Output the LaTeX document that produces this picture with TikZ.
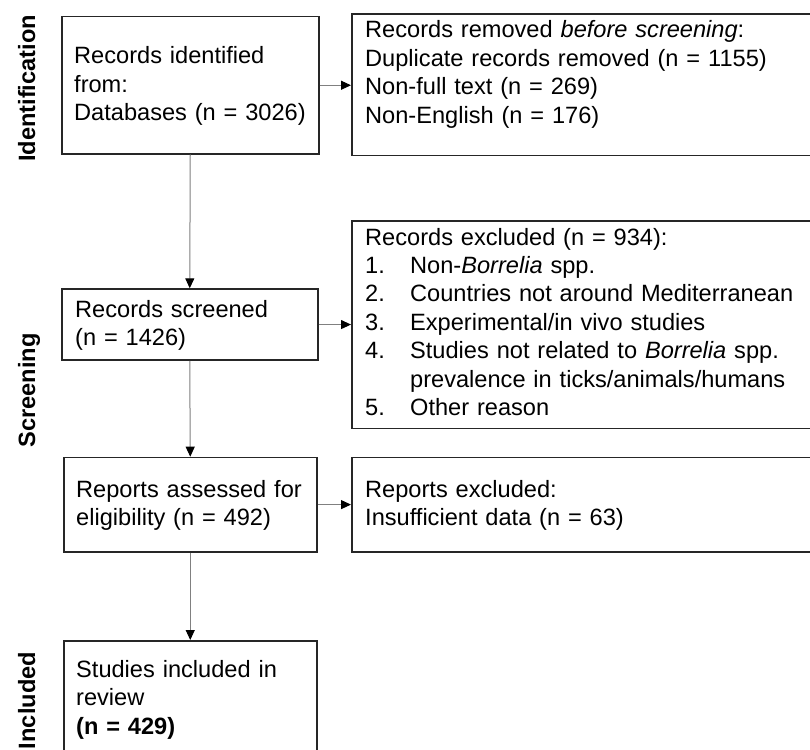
\documentclass[tikz,border=0pt]{standalone}
\usepackage{fontspec}
\setmainfont{Liberation Sans}
\usetikzlibrary{arrows.meta}
\definecolor{boxline}{HTML}{262626}
\definecolor{connline}{HTML}{808080}
\tikzset{
  box/.style={draw=boxline, line width=1.5pt, rectangle, inner sep=0pt, anchor=north west},
  txt/.style={inner sep=0pt, anchor=base west, text width=460pt, align=left,
              font=\fontsize{23.6}{28.4}\selectfont},
  phase/.style={inner sep=0pt, anchor=base, rotate=90,
              font=\fontsize{23.6}{28.4}\selectfont\bfseries},
  conn/.style={draw=connline, line width=1pt,
              -{Triangle[length=10pt,width=9pt,color=black]}}
}
\newcommand{\itemno}[1]{\makebox[45pt][l]{#1}}
\begin{document}
\begin{tikzpicture}[x=1pt,y=-1pt]
\useasboundingbox (0,0) rectangle (810,749);
\clip (0,0) rectangle (810,749);
\fill[white] (0,0) rectangle (810,749);

% boxes
\node[box, minimum width=257pt, minimum height=137pt] (b1) at (61,16) {};
\node[box, minimum width=480pt, minimum height=141pt] (b2) at (351,13.5) {};
\node[box, minimum width=256pt, minimum height=71pt] (b3) at (61,288.3) {};
\node[box, minimum width=480pt, minimum height=207.5pt] (b4) at (351,220) {};
\node[box, minimum width=253pt, minimum height=94.3pt] (b5) at (63,456.7) {};
\node[box, minimum width=480pt, minimum height=94.3pt] (b6) at (351,456.7) {};
\node[box, minimum width=253pt, minimum height=140pt] (b7) at (63,640) {};

% texts
\node[txt] (t1) at (74,64) {Records identified\\from:\\Databases (n = 3026)};
\node[txt] (t2) at (365,38) {Records removed \textit{before screening}:\\Duplicate records removed (n = 1155)\\Non-full text (n = 269)\\Non-English (n = 176)};
\node[txt] (t3) at (75,317.3) {Records screened\\(n = 1426)};
\node[txt] (t4) at (365,245) {Records excluded (n = 934):\\
\itemno{1.}Non-\textit{Borrelia} spp.\\
\itemno{2.}Countries not around Mediterranean\\
\itemno{3.}Experimental/in vivo studies\\
\itemno{4.}Studies not related to \textit{Borrelia} spp.\\
\itemno{}prevalence in ticks/animals/humans\\
\itemno{5.}Other reason};
\node[txt] (t5) at (76,497) {Reports assessed for\\eligibility (n = 492)};
\node[txt] (t6) at (365,497.3) {Reports excluded:\\Insufficient data (n = 63)};
\node[txt] (t7) at (76,677.3) {Studies included in\\review\\\textbf{(n = 429)}};

% phase labels
\node[phase] (p1) at (35,88.5) {Identification};
\node[phase] (p2) at (35,390.5) {Screening};
\node[phase] (p3) at (35,700.5) {Included};

% connectors
\draw[conn] (b1.south) -- (b3.north);
\draw[conn] (b3.south) -- (b5.north);
\draw[conn] (b5.south) -- (b7.north);
\draw[conn] (b1.east) -- (b1.east -| b2.west);
\draw[conn] (b3.east) -- (b3.east -| b4.west);
\draw[conn] (b5.east) -- (b5.east -| b6.west);
\end{tikzpicture}
\end{document}
